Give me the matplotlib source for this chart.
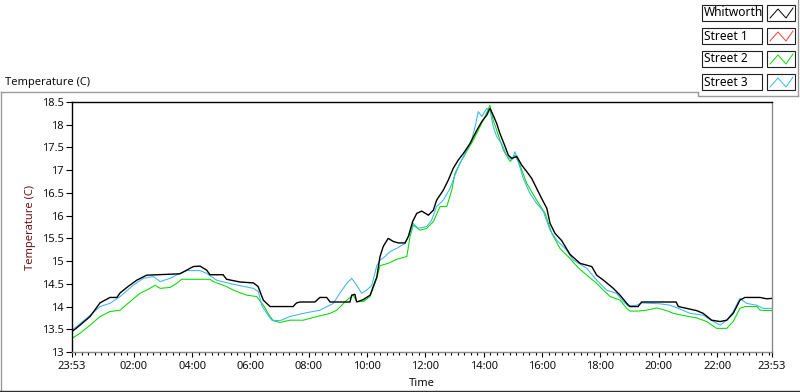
import matplotlib
matplotlib.use("Agg")
import matplotlib.pyplot as plt
from matplotlib.lines import Line2D
from matplotlib.patches import Rectangle
import numpy as np

plt.rcParams['font.family'] = ['Noto Sans', 'DejaVu Sans']

# ---------------- data (hours after 23:53, temperature in C) ----------------
series_names = ["Whitworth", "Street 1", "Street 2", "Street 3"]
series_colors = ["#000000", "#ff3b3b", "#00dd00", "#3cb4f0"]

whitworth_t = [0.00, 0.16, 0.62, 0.96, 1.30, 1.54, 1.65, 1.92, 2.22, 2.56, 3.70, 3.93, 4.16, 4.39,
               4.62, 4.73, 5.18, 5.30, 5.76, 6.22, 6.38, 6.56, 6.79, 7.58, 7.70, 7.82, 8.33, 8.50,
               8.73, 8.85, 9.53, 9.59, 9.70, 9.76, 9.98, 10.22, 10.45, 10.56, 10.67, 10.84, 11.02,
               11.19, 11.42, 11.53, 11.68, 11.82, 11.99, 12.22, 12.39, 12.50, 12.73, 12.90, 13.07,
               13.24, 13.42, 13.65, 13.88, 14.05, 14.22, 14.33, 14.44, 14.56, 14.67, 14.85, 14.96,
               15.08, 15.25, 15.42, 15.59, 15.76, 15.93, 16.10, 16.28, 16.39, 16.56, 16.79, 17.07,
               17.42, 17.82, 17.99, 18.22, 18.56, 18.79, 19.02, 19.13, 19.41, 19.53, 20.71, 20.79,
               21.07, 21.42, 21.64, 21.93, 22.22, 22.45, 22.67, 22.90, 23.07, 23.59, 23.82, 24.00]
whitworth_v = [13.45, 13.53, 13.78, 14.08, 14.20, 14.20, 14.30, 14.44, 14.58, 14.69, 14.72, 14.80,
               14.88, 14.89, 14.80, 14.70, 14.70, 14.60, 14.54, 14.52, 14.44, 14.14, 14.00, 14.00,
               14.08, 14.10, 14.10, 14.20, 14.20, 14.10, 14.10, 14.25, 14.27, 14.10, 14.15, 14.25,
               14.65, 15.10, 15.32, 15.50, 15.43, 15.40, 15.40, 15.54, 15.87, 16.05, 16.10, 16.01,
               16.12, 16.34, 16.56, 16.78, 17.04, 17.22, 17.37, 17.59, 17.88, 18.07, 18.21, 18.36,
               18.21, 18.03, 17.81, 17.52, 17.33, 17.26, 17.30, 17.11, 16.97, 16.82, 16.60, 16.38,
               16.16, 15.83, 15.61, 15.45, 15.15, 14.95, 14.88, 14.69, 14.58, 14.40, 14.25, 14.07,
               14.00, 14.00, 14.10, 14.10, 14.00, 13.96, 13.91, 13.85, 13.70, 13.67, 13.70, 13.85,
               14.14, 14.20, 14.20, 14.17, 14.18]

street1_t = []
street1_v = []

street2_t = [0.00, 0.27, 0.62, 0.96, 1.30, 1.65, 1.99, 2.33, 2.67, 2.85, 3.02, 3.36, 3.59, 3.76,
             4.73, 4.84, 5.30, 5.53, 5.99, 6.33, 6.56, 6.79, 6.90, 7.13, 7.47, 7.93, 8.39, 8.85,
             9.08, 9.42, 9.64, 9.76, 9.99, 10.22, 10.45, 10.56, 10.84, 11.13, 11.48, 11.59, 11.70,
             11.93, 12.16, 12.39, 12.62, 12.85, 13.02, 13.13, 13.30, 13.53, 13.76, 13.99, 14.16,
             14.33, 14.44, 14.56, 14.79, 15.02, 15.19, 15.36, 15.59, 15.93, 16.22, 16.45, 16.73,
             17.07, 17.36, 17.65, 17.99, 18.22, 18.45, 18.79, 19.02, 19.13, 19.41, 19.70, 20.05,
             20.39, 20.62, 21.07, 21.42, 21.76, 22.10, 22.45, 22.67, 22.90, 23.07, 23.49, 23.59,
             24.00]
street2_v = [13.30, 13.41, 13.59, 13.78, 13.89, 13.92, 14.11, 14.29, 14.40, 14.47, 14.40, 14.42,
             14.51, 14.60, 14.60, 14.55, 14.44, 14.36, 14.25, 14.22, 14.03, 13.78, 13.69, 13.65,
             13.70, 13.70, 13.78, 13.85, 13.92, 14.14, 14.25, 14.11, 14.11, 14.22, 14.62, 14.90,
             14.95, 15.04, 15.10, 15.54, 15.79, 15.68, 15.72, 15.87, 16.20, 16.20, 16.56, 16.93,
             17.15, 17.41, 17.66, 17.96, 18.18, 18.43, 18.10, 17.88, 17.44, 17.19, 17.33, 17.11,
             16.71, 16.34, 16.05, 15.61, 15.28, 15.06, 14.85, 14.69, 14.51, 14.36, 14.22, 14.14,
             13.96, 13.90, 13.90, 13.92, 13.97, 13.91, 13.85, 13.79, 13.75, 13.67, 13.52, 13.52,
             13.67, 13.96, 14.00, 14.00, 13.92, 13.91]

street3_t = [0.00, 0.50, 0.96, 1.30, 1.65, 2.10, 2.44, 2.79, 3.02, 3.36, 3.70, 3.93, 4.39, 4.62,
             4.96, 5.53, 6.22, 6.39, 6.50, 6.68, 6.85, 7.13, 7.47, 7.93, 8.50, 8.96, 9.19, 9.42,
             9.59, 9.76, 9.93, 10.10, 10.28, 10.45, 10.56, 10.73, 10.90, 11.13, 11.42, 11.59,
             11.70, 11.87, 12.16, 12.33, 12.50, 12.73, 12.96, 13.13, 13.30, 13.53, 13.70, 13.82,
             13.93, 14.05, 14.22, 14.33, 14.44, 14.56, 14.73, 14.90, 15.08, 15.19, 15.30, 15.47,
             15.70, 15.93, 16.16, 16.39, 16.62, 16.96, 17.19, 17.65, 17.99, 18.33, 18.67, 18.90,
             19.07, 19.36, 19.53, 20.16, 20.50, 20.79, 21.19, 21.64, 21.99, 22.22, 22.45, 22.67,
             22.90, 23.13, 23.47, 23.70, 24.00]
street3_v = [13.48, 13.74, 14.00, 14.07, 14.22, 14.47, 14.62, 14.66, 14.55, 14.62, 14.73, 14.79,
             14.79, 14.73, 14.58, 14.49, 14.40, 14.33, 14.03, 13.85, 13.70, 13.69, 13.78, 13.85,
             13.92, 14.07, 14.30, 14.51, 14.62, 14.47, 14.29, 14.36, 14.47, 14.90, 15.02, 15.10,
             15.21, 15.28, 15.39, 15.61, 15.83, 15.72, 15.76, 15.90, 16.20, 16.34, 16.60, 16.89,
             17.15, 17.44, 17.66, 17.96, 18.29, 18.18, 18.36, 18.32, 17.96, 17.74, 17.59, 17.33,
             17.22, 17.41, 17.19, 16.82, 16.49, 16.27, 16.09, 15.68, 15.46, 15.24, 15.02, 14.84,
             14.58, 14.36, 14.29, 14.11, 14.01, 14.03, 14.08, 14.06, 14.03, 13.96, 13.85, 13.81,
             13.67, 13.59, 13.70, 13.89, 14.18, 14.07, 14.03, 13.96, 13.96]

x_tick_labels = ["23:53", "02:00", "04:00", "06:00", "08:00", "10:00", "12:00",
                 "14:00", "16:00", "18:00", "20:00", "22:00", "23:53"]
y_ticks = [13, 13.5, 14, 14.5, 15, 15.5, 16, 16.5, 17, 17.5, 18, 18.5]
y_tick_labels = ["13", "13.5", "14", "14.5", "15", "15.5", "16", "16.5",
                 "17", "17.5", "18", "18.5"]

# ---------------- figure ----------------
W, H = 800, 392
fig = plt.figure(figsize=(W / 100, H / 100), dpi=100)
fig.patch.set_facecolor("white")


def px(x, y):
    return (x / W, 1 - y / H)


ax = fig.add_axes([72 / W, (H - 352) / H, 700 / W, 250 / H])
ax.set_facecolor("white")

series = [(whitworth_t, whitworth_v), (street1_t, street1_v),
          (street2_t, street2_v), (street3_t, street3_v)]
widths = [1.0, 0.75, 0.75, 0.75]
for idx in [1, 2, 3, 0]:
    t, v = series[idx]
    if len(t):
        ax.plot(t, v, color=series_colors[idx], lw=widths[idx], solid_joinstyle="miter")

ax.set_xlim(0, 24)
ax.set_ylim(13, 18.5)


def clock_to_offset(s, last=False):
    hh, mm = map(int, s.split(":"))
    m = (hh * 60 + mm - (23 * 60 + 53)) % 1440
    if last and m == 0:
        m = 1440
    return m / 60.0


x_ticks = [clock_to_offset(s, last=(i == len(x_tick_labels) - 1))
           for i, s in enumerate(x_tick_labels)]
ax.set_xticks(x_ticks)
ax.set_xticklabels(x_tick_labels)
minor = []
base = clock_to_offset("00:00")
step = 2.0 / 9
k = -1
while True:
    pos = base + k * step
    if pos > 24.001:
        break
    if pos >= -0.001 and all(abs(pos - mt) > 0.03 for mt in x_ticks):
        minor.append(pos)
    k += 1
ax.set_xticks(minor, minor=True)

ax.set_yticks(y_ticks)
ax.set_yticklabels(y_tick_labels)

ax.tick_params(axis="both", which="major", labelsize=8, colors="black", width=0.8)
ax.tick_params(axis="y", which="major", length=4.5, pad=1.5)
ax.tick_params(axis="x", which="major", length=3.5, pad=3.0)
ax.tick_params(axis="x", which="minor", length=2.2, width=0.8, color="black")
for lab in ax.get_xticklabels() + ax.get_yticklabels():
    lab.set_color("#101010")

for s in ["left", "top"]:
    ax.spines[s].set_color("black")
    ax.spines[s].set_linewidth(1.0)
for s in ["right", "bottom"]:
    ax.spines[s].set_color("#8a8a8a")
    ax.spines[s].set_linewidth(1.0)

# axis labels
fig.text(*px(31, 227), "Temperature (C)", rotation=90, ha="center", va="center",
         fontsize=8, color="#6a1515")
fig.text(*px(422, 384), "Time", ha="center", va="center", fontsize=8, color="#101010")
fig.text(*px(5, 82), "Temperature (C)", ha="left", va="center", fontsize=8, color="#101010")


def fline(xs, ys, color, lw=1.0):
    pts = [px(x, y) for x, y in zip(xs, ys)]
    fig.add_artist(Line2D([p[0] for p in pts], [p[1] for p in pts],
                          transform=fig.transFigure, color=color, lw=lw))


fline([0.5, 698], [92, 92], "#9a9a9a")
fline([1, 1], [92, 391], "#9a9a9a")
fline([0, 800], [391, 391], "#303030")
fline([698, 698, 798], [92, 96, 96], "#9a9a9a")
fline([798, 798], [0, 96], "#9a9a9a")

# legend
row_tops = [5, 28, 51, 74]
for name, col, y0 in zip(series_names, series_colors, row_tops):
    bx0, by0 = px(702, y0 + 16)
    fig.add_artist(Rectangle((bx0, by0), 60 / W, 16 / H, transform=fig.transFigure,
                             facecolor="white", edgecolor="#202020", lw=0.8))
    fig.text(*px(704, y0 + 8), name, ha="left", va="center", fontsize=8.6, color="black")
    ix0, iy0 = px(767, y0 + 16)
    fig.add_artist(Rectangle((ix0, iy0), 28 / W, 16 / H, transform=fig.transFigure,
                             facecolor="white", edgecolor="#202020", lw=0.8))
    zx = [770, 778, 786, 793]
    zy = [y0 + 13, y0 + 4, y0 + 13, y0 + 3]
    pts = [px(a, b) for a, b in zip(zx, zy)]
    fig.add_artist(Line2D([p[0] for p in pts], [p[1] for p in pts],
                          transform=fig.transFigure, color=col, lw=0.7))

fig.savefig("out.png", dpi=100, facecolor="white")
